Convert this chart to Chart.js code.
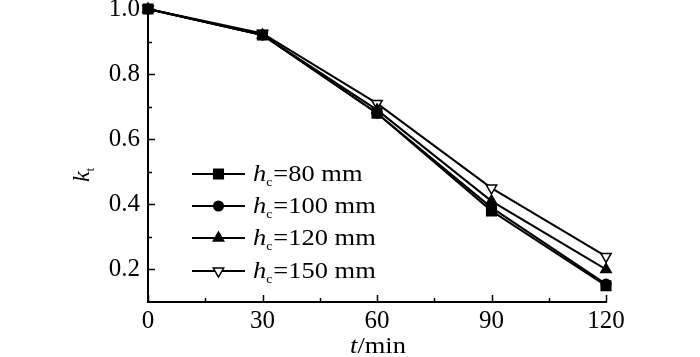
<!DOCTYPE html>
<html>
<head>
<meta charset="utf-8">
<script src="https://cdn.jsdelivr.net/npm/chart.js@4/dist/chart.umd.min.js"></script>
<style>
html,body{margin:0;padding:0;background:#fff;}
#wrap{width:700px;height:357px;position:relative;}
</style>
</head>
<body>
<div id="wrap"><canvas id="c" width="700" height="357"></canvas></div>
<script>
// ---- data ----
const times = [0, 30, 60, 90, 120];
const k80  = [1.0, 0.92, 0.68, 0.38, 0.15];
const k100 = [1.0, 0.92, 0.68, 0.39, 0.155];
const k120 = [1.0, 0.92, 0.69, 0.41, 0.20];
const k150 = [1.0, 0.925, 0.71, 0.45, 0.24];
const seriesNames = ['80', '100', '120', '150'];
const xTickValues = [0, 30, 60, 90, 120];
const yTickValues = [0.2, 0.4, 0.6, 0.8, 1.0];
const xMinorTicks = [15, 45, 75, 105];
const yMinorTicks = [0.3, 0.5, 0.7, 0.9];

const FONT = '"Liberation Serif", "Times New Roman", serif';
const styles = [
  {pointStyle:'rect', radius:6.8, rotation:0, bg:'#000'},
  {pointStyle:'circle', radius:4.8, rotation:0, bg:'#000'},
  {pointStyle:'triangle', radius:6, rotation:0, bg:'#000'},
  {pointStyle:'triangle', radius:6, rotation:180, bg:'#fff'}
];
const allSeries = [k80, k100, k120, k150];

const datasets = allSeries.map((vals, i) => ({
  label: 'hc=' + seriesNames[i] + ' mm',
  data: times.map((t, j) => ({x: t, y: vals[j]})),
  borderColor: '#000',
  borderWidth: 2,
  pointStyle: styles[i].pointStyle,
  pointRadius: styles[i].radius,
  pointRotation: styles[i].rotation,
  pointBackgroundColor: styles[i].bg,
  pointBorderColor: '#000',
  pointBorderWidth: 1.5,
  tension: 0,
  clip: false
}));

function drawMarker(ctx, st, x, y) {
  ctx.save();
  ctx.fillStyle = st.bg;
  ctx.strokeStyle = '#000';
  ctx.lineWidth = 1.5;
  if (Chart.helpers && Chart.helpers.drawPoint) {
    Chart.helpers.drawPoint(ctx, {pointStyle: st.pointStyle, radius: st.radius, rotation: st.rotation, borderWidth: 1.5}, x, y);
  }
  ctx.restore();
}

const SX = 1.15; // horizontal stretch of the reference's text
// draw runs of [text, font, dy] starting at x, y; returns width
function drawRuns(ctx, runs, x, y, measureOnly) {
  let w = 0;
  runs.forEach(r => {
    ctx.font = r[1];
    const mw = ctx.measureText(r[0]).width * SX;
    if (!measureOnly) {
      ctx.save();
      ctx.translate(x + w, y + (r[2] || 0));
      ctx.scale(SX, 1);
      ctx.fillText(r[0], 0, 0);
      ctx.restore();
    }
    w += mw + (r[3] || 0);
  });
  return w;
}

const decor = {
  id: 'decor',
  afterDraw(chart) {
    const ctx = chart.ctx;
    const xs = chart.scales.x, ys = chart.scales.y;
    const ca = chart.chartArea;
    ctx.save();
    ctx.strokeStyle = '#000';
    ctx.lineWidth = 1.5;
    // inward ticks
    xTickValues.forEach(v => { const px = Math.round(xs.getPixelForValue(v)) + 0.5; ctx.beginPath(); ctx.moveTo(px, ca.bottom); ctx.lineTo(px, ca.bottom - 7); ctx.stroke(); });
    xMinorTicks.forEach(v => { const px = Math.round(xs.getPixelForValue(v)) + 0.5; ctx.beginPath(); ctx.moveTo(px, ca.bottom); ctx.lineTo(px, ca.bottom - 4); ctx.stroke(); });
    yTickValues.forEach(v => { const py = Math.round(ys.getPixelForValue(v)) + 0.5; ctx.beginPath(); ctx.moveTo(ca.left, py); ctx.lineTo(ca.left + 7, py); ctx.stroke(); });
    yMinorTicks.forEach(v => { const py = Math.round(ys.getPixelForValue(v)) + 0.5; ctx.beginPath(); ctx.moveTo(ca.left, py); ctx.lineTo(ca.left + 4, py); ctx.stroke(); });

    ctx.fillStyle = '#000';
    ctx.textBaseline = 'alphabetic';
    ctx.textAlign = 'left';
    // legend
    const lx0 = 192, lx1 = 245, rowY0 = 174, rowGap = 32;
    seriesNames.forEach((name, i) => {
      const y = rowY0 + Math.round(i * 32.2);
      ctx.lineWidth = 2;
      ctx.beginPath(); ctx.moveTo(lx0, y); ctx.lineTo(lx1, y); ctx.stroke();
      drawMarker(ctx, styles[i], (lx0 + lx1) / 2, y);
      drawRuns(ctx, [
        ['h', 'italic 23px ' + FONT, 0, 0],
        ['c', '12px ' + FONT, 5, 1],
        ['=' + name + ' mm', '23px ' + FONT, 0, 0]
      ], 253, y + 7);
    });

    // x title
    const xr = [['t', 'italic 23px ' + FONT, 0, 0], ['/min', '23px ' + FONT, 0, 0]];
    const xw = drawRuns(ctx, xr, 0, 0, true);
    const cx = (ca.left + ca.right) / 2;
    drawRuns(ctx, xr, cx - xw / 2 + 1, 353);

    // y title
    ctx.save();
    ctx.translate(89, 182);
    ctx.rotate(-Math.PI / 2);
    ctx.font = 'italic 24px ' + FONT;
    ctx.fillText('k', 0, 0);
    const kw = ctx.measureText('k').width;
    ctx.font = '12px ' + FONT;
    ctx.fillText('t', kw, 5);
    ctx.restore();
    ctx.restore();
  }
};

new Chart(document.getElementById('c'), {
  type: 'line',
  data: { datasets },
  options: {
    responsive: false,
    animation: false,
    devicePixelRatio: 1,
    layout: { padding: { left: 0, right: 94, top: 9, bottom: 0 } },
    plugins: { legend: { display: false }, tooltip: { enabled: false } },
    scales: {
      x: {
        type: 'linear', min: 0, max: 120,
        grid: { display: false, drawTicks: false },
        border: { display: true, color: '#000', width: 2 },
        ticks: { color: '#000', font: { family: FONT, size: 25 }, padding: 4, maxRotation: 0, callback: v => String(v) },
        afterBuildTicks: s => { s.ticks = xTickValues.map(v => ({value: v})); },
        afterFit: s => { s.height = 55; s.paddingLeft = 0; s.paddingRight = 0; }
      },
      y: {
        type: 'linear', min: 0.1, max: 1.0,
        grid: { display: false, drawTicks: false },
        border: { display: true, color: '#000', width: 2 },
        ticks: { color: '#000', font: { family: FONT, size: 25 }, padding: 8, callback: v => Number(v).toFixed(1) },
        afterBuildTicks: s => { s.ticks = yTickValues.map(v => ({value: v})); },
        afterFit: s => { s.width = 148; s.paddingTop = 0; s.paddingBottom = 0; }
      }
    }
  },
  plugins: [decor]
});
</script>
</body>
</html>
